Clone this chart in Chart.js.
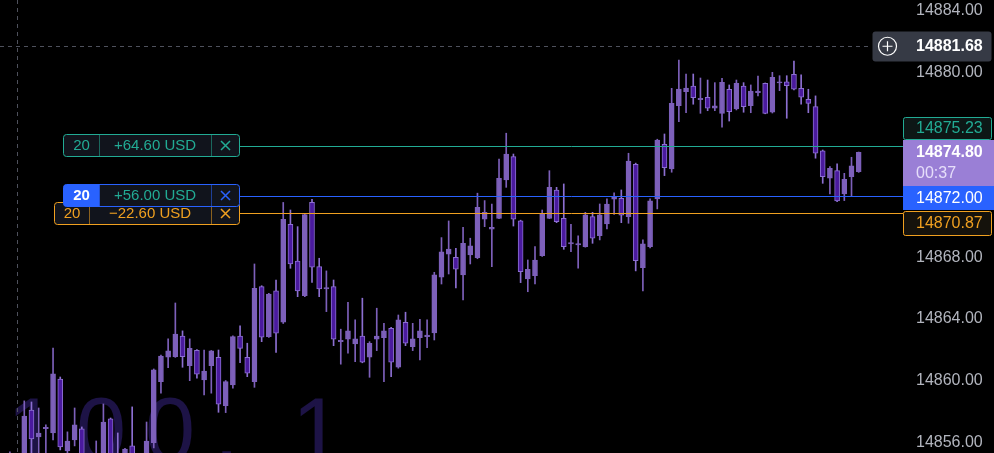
<!DOCTYPE html>
<html>
<head>
<meta charset="utf-8">
<script src="https://cdn.jsdelivr.net/npm/chart.js@4.4.0/dist/chart.umd.min.js"></script>
<style>
  html, body { margin: 0; padding: 0; background: #000; }
  #wrap { width: 994px; height: 453px; position: relative; }
</style>
</head>
<body>
<div id="wrap"><canvas id="chart"></canvas></div>
<script>
// 1 minute candles, oldest first
const opens = [
  14853.50, 14853.80, 14854.90, 14854.60, 14858.09, 14856.34, 14856.88, 14856.60, 14860.10, 14855.43,
  14856.15, 14856.86, 14854.60, 14853.80, 14854.90, 14857.51, 14855.10, 14854.40, 14855.76, 14854.50,
  14854.90, 14855.97, 14859.93, 14861.51, 14861.55, 14862.89, 14860.96, 14861.96, 14860.04, 14860.96,
  14861.51, 14858.37, 14859.71, 14862.89, 14861.51, 14859.93, 14866.09, 14862.85, 14865.81, 14863.78,
  14870.13, 14867.75, 14865.50, 14871.56, 14867.39, 14865.94, 14866.09, 14862.52, 14862.68, 14862.37,
  14862.89, 14861.51, 14862.68, 14862.78, 14863.39, 14860.86, 14863.78, 14862.20, 14862.78, 14862.85,
  14863.09, 14866.70, 14868.19, 14867.99, 14866.85, 14868.14, 14867.97, 14870.46, 14869.81, 14870.52,
  14873.01, 14874.52, 14870.35, 14866.59, 14866.80, 14868.10, 14870.52, 14872.36, 14870.52, 14868.86,
  14868.80, 14868.68, 14870.63, 14869.40, 14870.15, 14871.76, 14871.82, 14870.63, 14874.03, 14867.32,
  14868.68, 14871.78, 14875.32, 14873.72, 14877.83, 14878.73, 14879.10, 14878.22, 14878.37, 14877.66,
  14877.33, 14878.89, 14877.61, 14879.10, 14877.83, 14878.67, 14879.28, 14877.40, 14879.30, 14879.38,
  14879.86, 14878.95, 14878.24, 14877.76, 14874.89, 14873.12, 14873.61, 14872.10, 14873.22, 14873.55
];
const highs = [
  14854.80, 14855.37, 14855.10, 14858.68, 14858.61, 14858.22, 14857.12, 14862.11, 14860.23, 14856.67,
  14858.22, 14856.99, 14855.00, 14856.08, 14858.48, 14857.57, 14856.60, 14855.60, 14858.29, 14855.20,
  14857.31, 14860.75, 14861.65, 14862.70, 14865.03, 14863.22, 14862.70, 14862.00, 14861.98, 14861.95,
  14861.98, 14860.00, 14862.90, 14863.54, 14862.42, 14867.56, 14866.15, 14865.65, 14866.52, 14871.55,
  14871.06, 14869.98, 14870.80, 14871.76, 14867.93, 14867.11, 14866.52, 14863.33, 14865.08, 14863.93,
  14865.34, 14862.52, 14864.69, 14863.71, 14863.45, 14864.25, 14864.43, 14863.71, 14863.97, 14863.93,
  14867.02, 14869.27, 14870.35, 14868.58, 14869.94, 14869.23, 14872.15, 14871.67, 14871.45, 14874.37,
  14876.04, 14874.69, 14870.40, 14867.82, 14868.68, 14871.06, 14873.61, 14872.53, 14872.75, 14870.13,
  14869.38, 14870.91, 14870.91, 14871.45, 14871.78, 14872.18, 14872.36, 14874.74, 14874.10, 14869.12,
  14871.78, 14875.65, 14875.99, 14878.95, 14880.79, 14879.88, 14879.88, 14879.62, 14879.49, 14879.32,
  14879.60, 14879.17, 14879.49, 14879.32, 14879.17, 14879.75, 14879.30, 14879.99, 14879.77, 14879.77,
  14880.72, 14879.82, 14878.89, 14878.46, 14874.95, 14873.87, 14874.05, 14873.44, 14874.48, 14874.82
];
const lows = [
  14852.60, 14853.20, 14853.90, 14854.20, 14855.00, 14855.10, 14855.00, 14856.15, 14855.50, 14855.17,
  14855.76, 14854.30, 14853.50, 14853.40, 14854.50, 14854.20, 14853.80, 14854.00, 14854.20, 14854.10,
  14854.60, 14855.63, 14859.18, 14860.84, 14861.50, 14860.86, 14859.99, 14860.15, 14859.06, 14859.18,
  14857.94, 14857.92, 14859.50, 14861.16, 14860.25, 14859.56, 14862.52, 14862.80, 14861.83, 14863.70,
  14867.28, 14865.44, 14865.44, 14866.37, 14865.44, 14864.47, 14862.26, 14861.06, 14861.77, 14861.22,
  14861.15, 14860.21, 14861.94, 14859.93, 14860.25, 14860.80, 14862.26, 14861.94, 14861.33, 14862.13,
  14862.63, 14866.26, 14866.91, 14866.00, 14865.23, 14867.56, 14867.90, 14869.98, 14867.39, 14870.50,
  14872.53, 14870.02, 14866.35, 14865.76, 14866.26, 14868.05, 14870.50, 14870.24, 14868.51, 14868.36,
  14867.28, 14868.65, 14868.90, 14869.12, 14869.83, 14870.78, 14870.24, 14870.20, 14867.11, 14865.81,
  14868.60, 14871.13, 14873.29, 14873.51, 14876.79, 14877.37, 14877.92, 14877.33, 14877.50, 14877.50,
  14876.43, 14876.83, 14877.55, 14877.40, 14877.37, 14878.46, 14877.30, 14877.35, 14878.80, 14877.01,
  14878.85, 14877.92, 14877.37, 14874.42, 14872.79, 14872.10, 14871.60, 14871.67, 14871.99, 14873.50
];
const closes = [
  14854.20, 14854.90, 14854.30, 14857.70, 14856.21, 14856.60, 14856.96, 14860.43, 14855.69, 14856.08,
  14857.12, 14854.80, 14853.90, 14855.00, 14857.31, 14854.70, 14854.30, 14855.56, 14854.60, 14855.10,
  14856.08, 14860.69, 14861.59, 14861.92, 14863.02, 14861.55, 14862.09, 14860.41, 14860.62, 14861.92,
  14858.46, 14859.93, 14862.85, 14862.09, 14860.47, 14865.98, 14862.81, 14865.60, 14863.07, 14870.46,
  14867.56, 14865.81, 14870.76, 14867.35, 14865.94, 14866.03, 14862.68, 14862.61, 14863.22, 14862.70,
  14861.19, 14862.42, 14862.89, 14863.22, 14861.19, 14863.93, 14862.42, 14862.70, 14863.22, 14862.94,
  14866.85, 14868.34, 14868.53, 14867.22, 14868.90, 14868.73, 14871.24, 14870.91, 14869.94, 14873.12,
  14874.69, 14870.46, 14867.06, 14867.22, 14867.82, 14870.80, 14872.53, 14870.30, 14868.68, 14868.95,
  14868.88, 14870.74, 14869.23, 14870.74, 14871.45, 14871.92, 14870.72, 14874.24, 14867.77, 14868.86,
  14871.65, 14875.60, 14873.81, 14877.98, 14878.91, 14878.97, 14878.35, 14878.30, 14877.66, 14877.81,
  14879.34, 14877.44, 14879.28, 14877.76, 14878.78, 14878.78, 14877.33, 14879.67, 14879.38, 14879.12,
  14878.89, 14878.37, 14877.98, 14874.74, 14873.22, 14873.77, 14871.65, 14873.05, 14873.93, 14874.80
];

const yTicks = [14856, 14860, 14864, 14868, 14872, 14876, 14880, 14884];

// open positions / orders shown on the chart
const orderPrices = [14875.23, 14872.00, 14870.87];
const orderQty = ['20', '20', '20'];
const orderPnl = ['+64.60 USD', '+56.00 USD', '\u221222.60 USD'];
const lastPrice = 14874.80;
const countdown = '00:37';
const crossPrice = 14881.68;
const watermark = ['NAS100,', '1'];

const UP = '#7d60ba';
const DOWN = '#4a1a9e';
const DOWN_BORDER = '#8c6fd1';
const TEAL = '#22ab94';
const BLUE = '#2962ff';
const ORANGE = '#f0a020';
const FONT = '"Liberation Sans", Arial, sans-serif';

const isUp = opens.map((o, i) => closes[i] >= o);

function rbox(ctx, x, y, w, h, r, fill, stroke) {
    ctx.beginPath();
    ctx.roundRect(x + 0.5, y + 0.5, w - 1, h - 1, r);
    if (fill) { ctx.fillStyle = fill; ctx.fill(); }
    if (stroke) { ctx.strokeStyle = stroke; ctx.lineWidth = 1; ctx.stroke(); }
}

function drawX(ctx, cx, cy, s, color) {
    ctx.beginPath();
    ctx.moveTo(cx - s, cy - s); ctx.lineTo(cx + s, cy + s);
    ctx.moveTo(cx + s, cy - s); ctx.lineTo(cx - s, cy + s);
    ctx.strokeStyle = color; ctx.lineWidth = 1.5; ctx.stroke();
}

// order label boxes on the left, drawn in this order (blue ends up on top)
const orderLook = [
    { i: 2, left: 54, split: 89, color: ORANGE, qtyFill: null, qtyColor: ORANGE, pnlColor: ORANGE, dy: 1 },
    { i: 0, left: 63, split: 99, color: TEAL, qtyFill: null, qtyColor: TEAL, pnlColor: TEAL, dy: 0 },
    { i: 1, left: 63, split: 99, color: BLUE, qtyFill: BLUE, qtyColor: '#ffffff', pnlColor: TEAL, dy: 0 }
];

const overlay = {
    id: 'overlay',
    beforeDatasetsDraw(chart) {
        const { ctx, chartArea, scales } = chart;
        const y = scales.y;
        ctx.save();
        // symbol watermark
        ctx.font = '90px "Liberation Sans"';
        ctx.letterSpacing = '19px';
        ctx.fillStyle = '#1d1346';
        ctx.textBaseline = 'alphabetic';
        ctx.fillText(watermark[0], 76 - ctx.measureText('NAS1').width, 461);
        ctx.letterSpacing = '0px';
        ctx.fillText(watermark[1], 292, 461);
        // crosshair
        ctx.strokeStyle = '#4e515c';
        ctx.lineWidth = 1;
        ctx.setLineDash([4, 4]);
        const cy = Math.round(y.getPixelForValue(crossPrice)) + 0.5;
        ctx.beginPath();
        ctx.moveTo(0, cy); ctx.lineTo(872, cy);
        ctx.moveTo(17.5, 0); ctx.lineTo(17.5, chartArea.bottom);
        ctx.stroke();
        ctx.restore();
    },
    afterDraw(chart) {
        const { ctx, chartArea, scales } = chart;
        const y = scales.y;
        ctx.save();
        ctx.textBaseline = 'middle';

        // order lines
        orderLook.forEach(o => {
            const ly = Math.round(y.getPixelForValue(orderPrices[o.i])) + 0.5;
            ctx.beginPath();
            ctx.moveTo(240, ly); ctx.lineTo(chartArea.right, ly);
            ctx.strokeStyle = o.color; ctx.lineWidth = 1; ctx.stroke();
        });

        // order boxes
        orderLook.forEach(o => {
            const ly = y.getPixelForValue(orderPrices[o.i]);
            const top = Math.round(ly - 11.5 + o.dy);
            const h = 23, right = 240, xSplit = 211;
            rbox(ctx, o.left, top, right - o.left, h, 3, '#11141c', null);
            if (o.qtyFill) {
                ctx.beginPath();
                ctx.roundRect(o.left + 0.5, top + 0.5, o.split - o.left, h - 1, [3, 0, 0, 3]);
                ctx.fillStyle = o.qtyFill; ctx.fill();
            }
            rbox(ctx, o.left, top, right - o.left, h, 3, null, o.color);
            ctx.beginPath();
            ctx.moveTo(o.split + 0.5, top + 1); ctx.lineTo(o.split + 0.5, top + h - 1);
            ctx.moveTo(xSplit + 0.5, top + 1); ctx.lineTo(xSplit + 0.5, top + h - 1);
            ctx.globalAlpha = 0.55; ctx.strokeStyle = o.color; ctx.stroke(); ctx.globalAlpha = 1;
            ctx.textAlign = 'center';
            ctx.font = (o.qtyFill ? 'bold ' : '') + '15px ' + FONT;
            ctx.fillStyle = o.qtyColor;
            ctx.fillText(orderQty[o.i], (o.left + o.split) / 2 + 0.5, top + h / 2 + 0.5);
            ctx.font = '15px ' + FONT;
            ctx.fillStyle = o.pnlColor;
            ctx.fillText(orderPnl[o.i], (o.split + xSplit) / 2, top + h / 2 + 0.5);
            drawX(ctx, 225.5, top + h / 2, 4.5, o.color);
        });

        // price axis labels
        const ax = chartArea.right;
        const yLast = y.getPixelForValue(lastPrice);
        const pTop = Math.round(yLast - 12.5);
        ctx.textAlign = 'left';
        ctx.font = '16px ' + FONT;

        rbox(ctx, ax, pTop - 23, 89, 23, 2, '#0d1716', TEAL);
        ctx.fillStyle = TEAL;
        ctx.fillText(orderPrices[0].toFixed(2), 916, pTop - 11);

        ctx.fillStyle = '#9a7fd6';
        ctx.fillRect(ax, pTop, 994 - ax, 46);
        ctx.font = 'bold 16px ' + FONT;
        ctx.fillStyle = '#ffffff';
        ctx.fillText(lastPrice.toFixed(2), 916, pTop + 12.5);
        ctx.font = '16px ' + FONT;
        ctx.fillStyle = '#e6defa';
        ctx.fillText(countdown, 916, pTop + 33.5);

        ctx.fillStyle = BLUE;
        ctx.fillRect(ax, pTop + 46, 994 - ax, 24);
        ctx.fillStyle = '#ffffff';
        ctx.fillText(orderPrices[1].toFixed(2), 916, pTop + 58.5);

        rbox(ctx, ax, pTop + 71, 89, 25, 2, '#15120c', ORANGE);
        ctx.fillStyle = ORANGE;
        ctx.fillText(orderPrices[2].toFixed(2), 916, pTop + 83.5);

        // crosshair price label
        const cy = y.getPixelForValue(crossPrice);
        rbox(ctx, 872, Math.round(cy - 15.5), 120, 31, 3, '#363a45', null);
        ctx.beginPath();
        ctx.arc(887.5, cy, 9, 0, Math.PI * 2);
        ctx.moveTo(882.5, cy); ctx.lineTo(892.5, cy);
        ctx.moveTo(887.5, cy - 5); ctx.lineTo(887.5, cy + 5);
        ctx.strokeStyle = '#ffffff'; ctx.lineWidth = 1.2; ctx.stroke();
        ctx.font = 'bold 16px ' + FONT;
        ctx.fillStyle = '#ffffff';
        ctx.fillText(crossPrice.toFixed(2), 916, cy + 0.5);
        ctx.restore();
    }
};

const idx = opens.map((o, i) => i);

new Chart(document.getElementById('chart'), {
    type: 'bar',
    data: {
        datasets: [
            {
                label: 'body',
                data: idx.map(i => ({ x: i, y: [opens[i], closes[i]] })),
                backgroundColor: isUp.map(u => u ? UP : DOWN),
                borderColor: isUp.map(u => u ? UP : DOWN_BORDER),
                borderWidth: 1,
                borderSkipped: false,
                barThickness: 5,
                grouped: false,
                order: 0
            },
            {
                label: 'wick',
                data: idx.map(i => ({ x: i, y: [lows[i], highs[i]] })),
                backgroundColor: isUp.map(u => u ? UP : DOWN_BORDER),
                borderWidth: 0,
                barThickness: 1,
                grouped: false,
                order: 1
            }
        ]
    },
    options: {
        responsive: true,
        maintainAspectRatio: false,
        animation: false,
        layout: { padding: 0 },
        plugins: { legend: { display: false }, tooltip: { enabled: false } },
        scales: {
            x: {
                type: 'linear',
                min: -0.375,
                max: 125.16,
                offset: false,
                display: false,
                grid: { display: false }
            },
            y: {
                type: 'linear',
                position: 'right',
                min: 14855.30,
                max: 14884.68,
                grid: { display: false, drawTicks: false },
                border: { display: false },
                ticks: {
                    color: '#b2b5be',
                    padding: 13,
                    font: { family: FONT, size: 16 },
                    callback: v => v.toFixed(2)
                },
                afterBuildTicks: s => { s.ticks = yTicks.map(v => ({ value: v })); },
                afterFit: s => { s.width = 91; s.paddingTop = 0; s.paddingBottom = 0; }
            }
        }
    },
    plugins: [overlay]
});
</script>
</body>
</html>
